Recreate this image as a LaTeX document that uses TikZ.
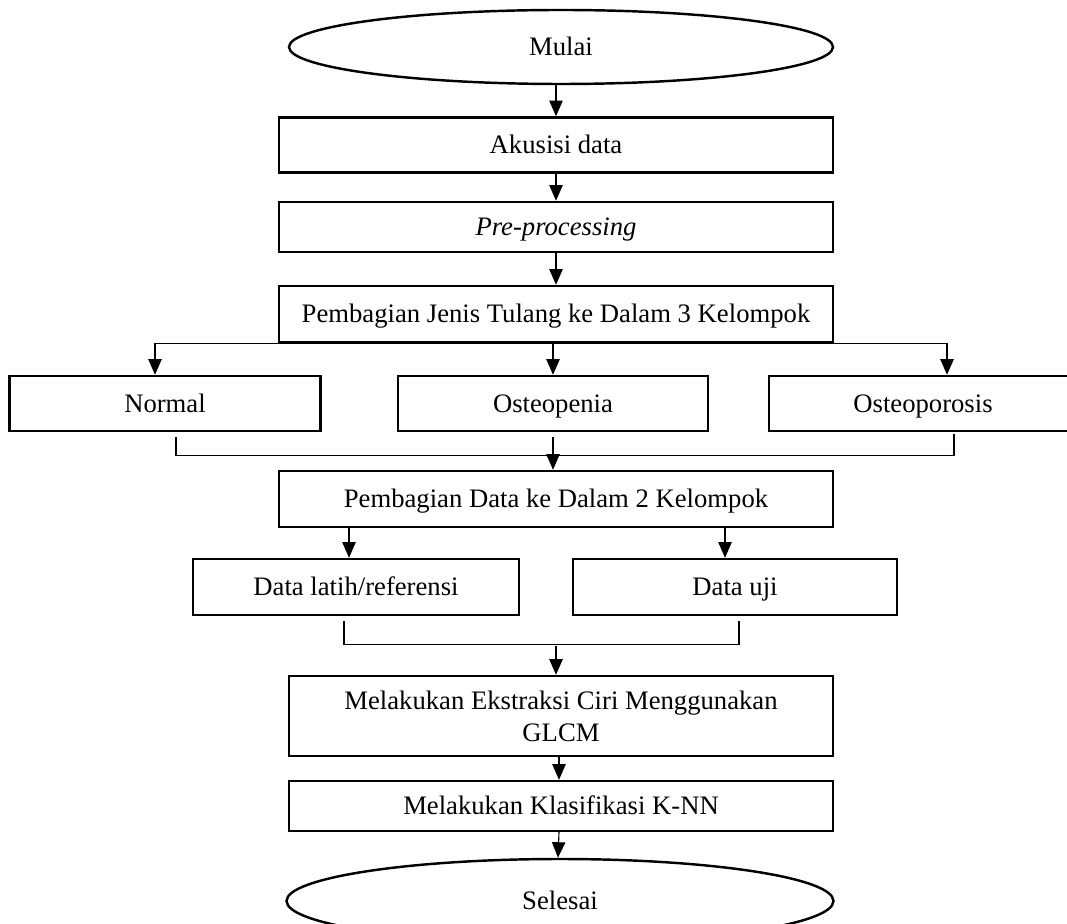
\documentclass[tikz,border=0pt]{standalone}
\usepackage{fontspec}
\setmainfont{Liberation Serif}
\usetikzlibrary{arrows.meta, shapes.geometric, calc}

\begin{document}
\begin{tikzpicture}[
      x=0.45pt, y=-0.45pt,
      box/.style={draw, line width=1.1pt, rectangle, inner sep=0pt, align=center, text height=0.85em, text depth=0.05em, font=\fontsize{12}{14.5}\selectfont},
      terminal/.style={draw, line width=1.1pt, ellipse, inner sep=0pt, text height=0.85em, text depth=0.05em, font=\fontsize{12}{14.5}\selectfont},
      link/.style={line width=0.5pt},
      arr/.style={link, -{Triangle[length=7pt, width=6pt]}}
    ]
      \def\px{0.45pt}
      \useasboundingbox (0,0) rectangle (1067,924);

      % main column
      \node[terminal, minimum width={544*\px}, minimum height={74*\px}] (mulai) at (561,47) {Mulai};
      \node[box, minimum width={554*\px}, minimum height={55*\px}] (akusisi) at (556,145) {Akusisi data};
      \node[box, minimum width={554*\px}, minimum height={50*\px}] (pre) at (556,227) {\textit{Pre-processing}};
      \node[box, minimum width={554*\px}, minimum height={56*\px}] (jenis) at (556,314) {Pembagian Jenis Tulang ke Dalam 3 Kelompok};

      % three groups
      \node[box, minimum width={311*\px}, minimum height={55*\px}] (normal) at (165,403.5) {Normal};
      \node[box, minimum width={310*\px}, minimum height={55*\px}] (penia) at (553,403.5) {Osteopenia};
      \node[box, minimum width={308*\px}, minimum height={55*\px}] (porosis) at (923,403.5) {Osteoporosis};

      \node[box, minimum width={554*\px}, minimum height={56*\px}] (bagi) at (556,499) {Pembagian Data ke Dalam 2 Kelompok};
      \node[box, minimum width={326*\px}, minimum height={56*\px}] (latih) at (356,587) {Data latih/referensi};
      \node[box, minimum width={324*\px}, minimum height={56*\px}] (uji) at (735,587) {Data uji};

      \node[box, text height=, text depth=, minimum width={544*\px}, minimum height={80*\px}] (glcm) at (561,716) {Melakukan Ekstraksi Ciri Menggunakan\\GLCM};
      \node[box, minimum width={544*\px}, minimum height={50*\px}] (knn) at (561,806) {Melakukan Klasifikasi K-NN};
      \node[terminal, minimum width={547*\px}, minimum height={84*\px}] (selesai) at (560,901) {Selesai};

      % connectors
      \draw[arr] (mulai.south -| akusisi.north) -- (akusisi.north);
      \draw[arr] (akusisi) -- (pre);
      \draw[arr] (pre) -- (jenis);
      \draw[arr] (jenis.south) -| ([xshift=-10*\px]normal.north);
      \draw[arr] (jenis.south) -| ([xshift=24*\px]porosis.north);
      \draw[arr] (jenis.south -| penia.north) -- (penia.north);

      \coordinate (gabung) at ($(penia.south)+(0,23)$);
      \draw[link] ([xshift=11*\px, yshift=-5*\px]normal.south) |- (gabung) -| ([xshift=31*\px, yshift=-2*\px]porosis.south);
      \draw[arr] ([yshift=-5*\px]penia.south) -- (bagi.north -| penia.south);

      \draw[arr] ([xshift=-207*\px]bagi.south) -- ([xshift=-7*\px]latih.north);
      \draw[arr] ([xshift=169*\px]bagi.south) -- ([xshift=-10*\px]uji.north);

      \coordinate (gabung2) at ($(bagi.south)+(0,116)$);
      \draw[link] ([xshift=-12*\px, yshift=-5*\px]latih.south) |- (gabung2) -| ([xshift=4*\px, yshift=-5*\px]uji.south);
      \draw[arr] ([yshift=-2*\px]gabung2) -- (glcm.north -| gabung2);

      \draw[arr] ([xshift=-2*\px]glcm.south) -- ([xshift=-2*\px]knn.north);
      \draw[arr] ([xshift=-2*\px]knn.south) -- ([xshift=-2*\px]selesai.north);
    \end{tikzpicture}
\end{document}
